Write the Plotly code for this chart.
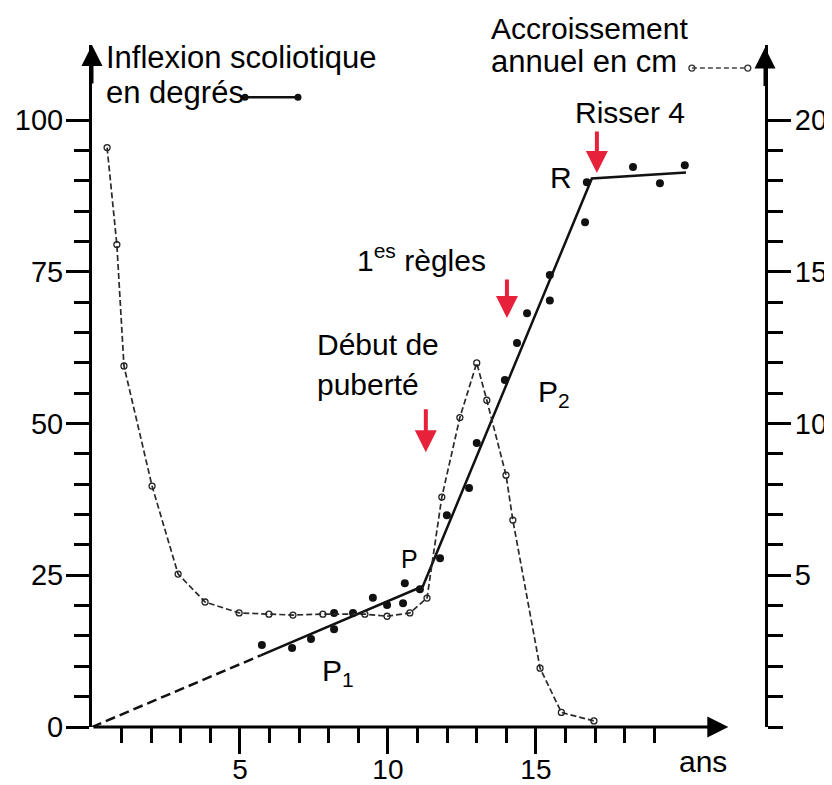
import plotly.graph_objects as go

# --- data ---
age_deg = [5.74, 6.76, 7.40, 8.18, 8.18, 8.82, 9.49, 9.97, 10.51, 10.57, 11.08, 11.76,
           11.99, 12.74, 13.0, 13.95, 14.36, 14.70, 15.47, 15.47, 16.66, 16.72, 18.28, 19.19, 20.03]
deg = [13.5, 13.0, 14.5, 16.1, 18.8, 18.8, 21.3, 20.1, 20.4, 23.7, 22.7, 27.8,
       34.9, 39.4, 46.8, 57.2, 63.3, 68.2, 70.3, 74.5, 83.2, 89.8, 92.3, 89.6, 92.6]

fit_dash_x = [0, 5.7]
fit_dash_y = [0, 11.8]
fit_x = [5.7, 11.18, 16.89, 20.07]
fit_y = [11.8, 23.2, 90.4, 91.4]

age_g = [0.51, 0.84, 1.08, 2.03, 2.91, 3.82, 4.97, 5.98, 6.79, 7.80, 9.22, 9.97, 10.74,
         11.32, 11.82, 12.43, 13.0, 13.34, 13.99, 14.22, 15.14, 15.86, 16.96]
cm = [19.1, 15.9, 11.9, 7.94, 5.04, 4.12, 3.76, 3.72, 3.69, 3.72, 3.72, 3.65, 3.76,
      4.25, 7.58, 10.2, 12.0, 10.77, 8.30, 6.82, 1.94, 0.48, 0.2]

x_major = [5, 10, 15]
x_minor = [1, 2, 3, 4, 6, 7, 8, 9, 11, 12, 13, 14, 16, 17, 18, 19]
yl_major = [0, 25, 50, 75, 100]
yl_minor = [5, 10, 15, 20, 30, 35, 40, 45, 55, 60, 65, 70, 80, 85, 90, 95]
yr_major = [5, 10, 15, 20]
yr_minor = [0, 1, 2, 3, 4, 6, 7, 8, 9, 11, 12, 13, 14, 16, 17, 18, 19]

# legend samples
leg_deg_x = [5.17, 6.96]
leg_deg_y = [103.8, 103.8]
leg_g_x = [20.27, 22.16]
leg_g_y = [21.72, 21.72]

FONT = "Liberation Sans, Arial, sans-serif"
RED = "#e8213b"
XMAX = 22.74
YMAX = 112.4

fig = go.Figure()

# growth curve (right axis)
fig.add_trace(go.Scatter(x=age_g, y=cm, yaxis="y2", mode="lines+markers",
                         line=dict(color="#2a2a2a", width=1.7, dash="6px,3px"),
                         marker=dict(symbol="circle-open", size=6, color="#222222",
                                     line=dict(width=1.3)),
                         showlegend=False, cliponaxis=False))
# fit lines
fig.add_trace(go.Scatter(x=fit_dash_x, y=fit_dash_y, mode="lines",
                         line=dict(color="#111111", width=2.5, dash="10px,5px"),
                         showlegend=False))
fig.add_trace(go.Scatter(x=fit_x, y=fit_y, mode="lines",
                         line=dict(color="#111111", width=2.5),
                         showlegend=False))
# scoliosis points
fig.add_trace(go.Scatter(x=age_deg, y=deg, mode="markers",
                         marker=dict(color="#111111", size=8),
                         showlegend=False))
# legend samples
fig.add_trace(go.Scatter(x=leg_deg_x, y=leg_deg_y, mode="lines+markers",
                         line=dict(color="#111111", width=2.5),
                         marker=dict(color="#111111", size=7),
                         showlegend=False, cliponaxis=False))
fig.add_trace(go.Scatter(x=leg_g_x, y=leg_g_y, yaxis="y2", mode="lines+markers",
                         line=dict(color="#444444", width=1.4, dash="5px,3px"),
                         marker=dict(symbol="circle-open", size=6, color="#333333",
                                     line=dict(width=1.3)),
                         showlegend=False, cliponaxis=False))

tickfont = dict(family=FONT, size=29, color="black")

fig.update_layout(
    width=832, height=785,
    margin=dict(l=84, r=75, t=37, b=66, autoexpand=False),
    paper_bgcolor="white", plot_bgcolor="white",
    showlegend=False,
    xaxis=dict(range=[0, XMAX], showline=False, showgrid=False, zeroline=False,
               automargin=False,
               tickmode="array", tickvals=x_major, ticktext=[str(v) for v in x_major],
               ticks="outside", ticklen=26, tickwidth=3, tickcolor="black",
               tickfont=dict(family=FONT, size=28, color="black"), ticklabelstandoff=-9,
               minor=dict(tickmode="array", tickvals=x_minor, ticks="outside",
                          ticklen=15, tickwidth=3, tickcolor="black")),
    yaxis=dict(range=[0, YMAX], showline=True, linewidth=3, linecolor="black",
               showgrid=False, zeroline=False, automargin=False,
               tickmode="array", tickvals=yl_major, ticktext=[str(v) for v in yl_major],
               ticks="outside", ticklen=23, tickwidth=3, tickcolor="black",
               tickfont=tickfont, ticklabelstandoff=-3,
               minor=dict(tickmode="array", tickvals=yl_minor, ticks="outside",
                          ticklen=15, tickwidth=3, tickcolor="black")),
    yaxis2=dict(range=[0, YMAX / 5], overlaying="y", side="right", anchor="x",
                showline=True, linewidth=3, linecolor="black",
                showgrid=False, zeroline=False, automargin=False,
                tickmode="array", tickvals=yr_major, ticktext=[str(v) for v in yr_major],
                ticks="outside", ticklen=23, tickwidth=3, tickcolor="black",
                tickfont=tickfont, ticklabelstandoff=-2,
                minor=dict(tickmode="array", tickvals=yr_minor, ticks="outside",
                           ticklen=15, tickwidth=3, tickcolor="black")),
)

ann = []

def text(x, y, s, xanchor="left", yanchor="middle", size=30, xref="x", yref="y"):
    ann.append(dict(x=x, y=y, xref=xref, yref=yref, text=s, showarrow=False,
                    xanchor=xanchor, yanchor=yanchor,
                    font=dict(family=FONT, size=size, color="black")))

text(0.4, 110.4, "Inflexion scoliotique", size=31)
text(0.4, 104.5, "en degrés", size=31)
text(0.590, 1.0235, "Accroissement", xref="paper", yref="paper", size=30)
text(13.4, 109.6, "annuel en cm", size=31)
text(18.18, 101.3, "Risser 4", xanchor="center")
text(15.84, 90.6, "R", xanchor="center")
text(8.9, 77.3, "1<sup>es</sup> règles")
text(7.55, 63.0, "Début de")
text(7.55, 56.4, "puberté")
text(10.74, 27.7, "P", xanchor="center", size=25)
text(15.0, 55.0, "P<sub>2</sub>")
text(7.72, 9.0, "P<sub>1</sub>")
text(0.908, -0.051, "ans", xanchor="center", xref="paper", yref="paper")

# red arrows
for xa, yh, yt in [(11.28, 45.3, 52.6), (14.02, 67.4, 74.0), (17.06, 91.3, 98.4)]:
    ann.append(dict(x=xa, y=yh, ax=xa, ay=yt, xref="x", yref="y", axref="x", ayref="y",
                    text="", showarrow=True, arrowhead=2, arrowsize=1.1,
                    arrowwidth=4, arrowcolor=RED))

# axis arrows
ann.append(dict(x=21.5, y=0, ax=0, ay=0, xref="x", yref="y", axref="x", ayref="y",
                text="", showarrow=True, arrowhead=2, arrowsize=1.4, arrowwidth=3,
                arrowcolor="black"))
ann.append(dict(x=0, y=YMAX, ax=0, ay=40, xref="x", yref="y",
                text="", showarrow=True, arrowhead=2, arrowsize=1.4, arrowwidth=3,
                arrowcolor="black"))
ann.append(dict(x=1, y=22.4, ax=0, ay=40, xref="paper", yref="y2",
                text="", showarrow=True, arrowhead=2, arrowsize=1.4, arrowwidth=3,
                arrowcolor="black"))

fig.update_layout(annotations=ann)
fig.write_html("out.html")
